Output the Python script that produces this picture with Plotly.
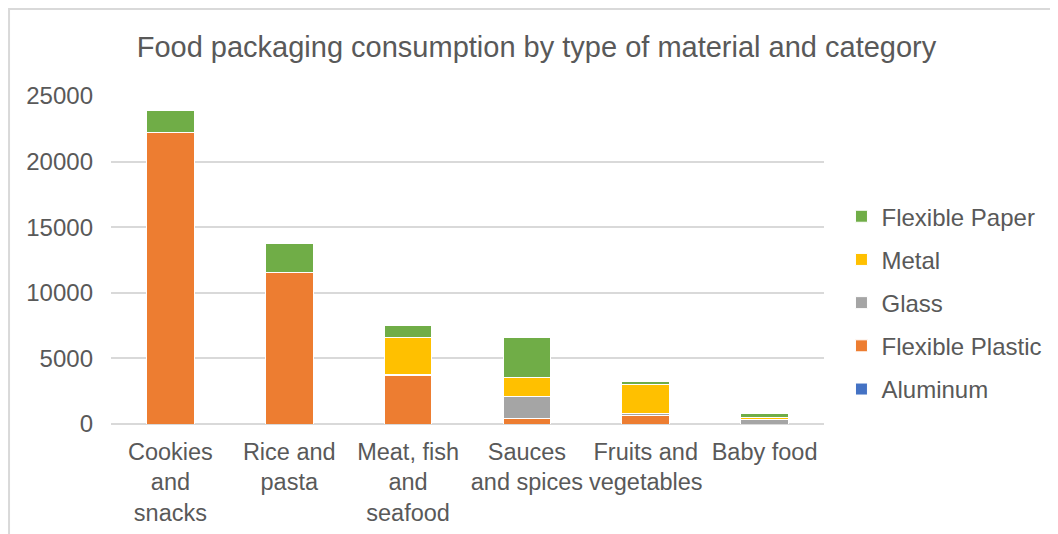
import plotly.graph_objects as go

categories = ["Cookies<br>and<br>snacks", "Rice and<br>pasta", "Meat, fish<br>and<br>seafood",
              "Sauces<br>and spices", "Fruits and<br>vegetables", "Baby food"]

aluminum = [0, 0, 0, 0, 0, 0]
flexible_plastic = [22250, 11530, 3710, 440, 620, 0]
glass = [0, 0, 100, 1650, 200, 340]
metal = [0, 0, 2820, 1470, 2170, 130]
flexible_paper = [1620, 2190, 840, 3000, 270, 330]

series = [
    ("Aluminum", aluminum, "#4472C4", 5),
    ("Flexible Plastic", flexible_plastic, "#ED7D31", 4),
    ("Glass", glass, "#A5A5A5", 3),
    ("Metal", metal, "#FFC000", 2),
    ("Flexible Paper", flexible_paper, "#70AD47", 1),
]

fig = go.Figure()
for name, vals, color, rank in series:
    fig.add_trace(go.Bar(
        x=categories, y=vals, name=name, legendgroup=name, legendrank=rank,
        marker=dict(color=color, line=dict(color="white", width=1)),
    ))

font_family = "Liberation Sans, Arial, sans-serif"
text_color = "#595959"

fig.update_layout(
    barmode="stack",
    bargap=0.6,
    width=1058, height=534,
    paper_bgcolor="white", plot_bgcolor="white",
    margin=dict(l=103, r=242, t=88, b=118),
    font=dict(family=font_family, color=text_color, size=24),
    title=dict(text="Food packaging consumption by type of material and category",
               x=0.4995, xanchor="center", y=0.927, yanchor="middle",
               font=dict(size=29, color=text_color, family=font_family)),
    legend=dict(x=1.0245, xanchor="left", y=0.37, yanchor="middle",
                traceorder="grouped", tracegroupgap=9,
                font=dict(size=24, color=text_color), itemwidth=30),
    showlegend=True,
    shapes=[dict(type="rect", xref="paper", yref="paper", x0=-0.143, x1=2, y0=-1, y1=1.265,
                 line=dict(color="#D9D9D9", width=2), fillcolor="rgba(0,0,0,0)", layer="below")],
)
fig.update_yaxes(range=[0, 25000], dtick=5000, tickformat="d", showgrid=True, gridcolor="#D9D9D9",
                 gridwidth=1.5, zeroline=True, zerolinecolor="#D9D9D9", zerolinewidth=1.5,
                 showline=False, tickfont=dict(size=24, color=text_color), ticklabelstandoff=17)
fig.update_xaxes(showline=False, tickfont=dict(size=23.5, color=text_color), ticks="",
                 ticklabelstandoff=11)

fig.write_html("out.html")
